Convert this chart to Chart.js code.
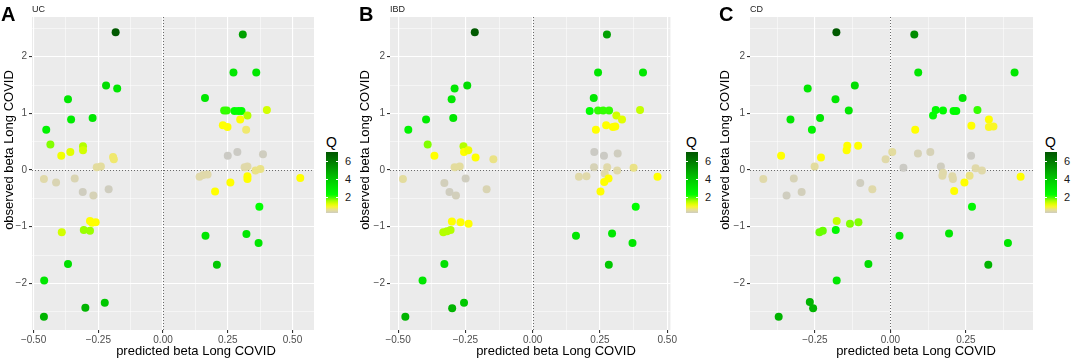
<!DOCTYPE html>
<html>
<head>
<meta charset="utf-8">
<script src="https://cdn.jsdelivr.net/npm/chart.js@4.4.1/dist/chart.umd.min.js"></script>
<style>
  html, body { margin: 0; padding: 0; background: #fff; }
  body { width: 1072px; height: 360px; position: relative; overflow: hidden;
         font-family: "Liberation Sans", Arial, Helvetica, sans-serif; }
  canvas { position: absolute; top: 0; }
  .txt { position: absolute; white-space: nowrap; line-height: 1; color: #000; }
  .letter { font-size: 20px; font-weight: bold; }
  .sub { font-size: 9px; color: #222; }
  .axtitle { font-size: 13px; transform: translate(-50%, -50%); }
  .ytitle { transform: translate(-50%, -50%) rotate(-90deg); }
  .bar { position: absolute; width: 12px; }
  .btick { position: absolute; width: 2px; height: 1px; background: #fff; }
  .qtitle { font-size: 14px; }
  .qlab { font-size: 11px; color: #1a1a1a; transform: translateY(-50%); }
</style>
</head>
<body>
<script>
  // observed beta is the same in every panel, predicted beta differs
  const yTicks = [-2.5, -2, -1.5, -1, -0.5, 0, 0.5, 1, 1.5, 2, 2.5];
  const xTicksWide = [-0.5, -0.375, -0.25, -0.125, 0, 0.125, 0.25, 0.375, 0.5];
  const xTicksNarrow = [-0.375, -0.25, -0.125, 0, 0.125, 0.25, 0.375];
  const legendLabels = [2, 4, 6];

  const ucX = [-0.183, 0.308, -0.220, -0.177, -0.367, -0.355, -0.272, -0.451, -0.435, -0.393, -0.358, -0.309, -0.309,
    -0.193, -0.190, -0.256, -0.240, 0.272, 0.360, 0.162, 0.236, 0.246, 0.276, 0.291, 0.303, 0.326, 0.401, 0.231, 0.249,
    0.298, 0.321, 0.250, 0.287, 0.386, 0.315, 0.326, 0.357, 0.376, -0.460, -0.413, -0.341, -0.310, -0.269, -0.210,
    -0.282, -0.274, -0.260, -0.306, -0.282, -0.391, -0.367, -0.459, -0.460, -0.300, -0.225, 0.141, 0.155, 0.172,
    0.260, 0.201, 0.326, 0.326, 0.530, 0.372, 0.164, 0.322, 0.369, 0.208];
  const ucY = [2.43, 2.39, 1.49, 1.44, 1.25, 0.89, 0.92, 0.71, 0.45, 0.25, 0.32, 0.42, 0.35,
    0.23, 0.19, 0.05, 0.06, 1.72, 1.72, 1.27, 1.05, 1.05, 1.04, 1.04, 1.04, 0.96, 1.06, 0.79, 0.76,
    0.89, 0.71, 0.25, 0.32, 0.28, 0.05, 0.06, -0.01, 0.02, -0.16, -0.22, -0.15, -0.39, -0.45, -0.34,
    -0.90, -0.93, -0.92, -1.06, -1.07, -1.10, -1.66, -1.95, -2.59, -2.43, -2.34, -0.12, -0.09, -0.08,
    -0.22, -0.38, -0.11, -0.16, -0.14, -0.65, -1.16, -1.13, -1.29, -1.67];
  const ucQ = [6.9, 5.0, 3.3, 3.0, 3.0, 2.8, 3.0, 2.6, 1.7, 1.1, 1.2, 1.5, 1.3,
    0.7, 0.7, 0.5, 0.5, 3.0, 3.0, 3.0, 2.0, 2.0, 2.2, 2.2, 2.2, 1.5, 1.3, 1.0, 1.0,
    1.0, 0.7, 0.15, 0.15, 0.2, 0.45, 0.45, 0.6, 0.6, 0.45, 0.35, 0.35, 0.2, 0.3, 0.2,
    1.0, 1.0, 1.0, 1.6, 1.6, 1.3, 3.2, 3.0, 4.5, 4.5, 4.0, 0.45, 0.45, 0.45,
    1.0, 1.0, 1.0, 1.0, 1.0, 2.2, 3.0, 3.0, 3.0, 4.0];

  const ibdX = [-0.215, 0.276, -0.243, -0.290, -0.301, -0.295, -0.396, -0.462, -0.390, -0.365, -0.257, -0.255, -0.239,
    -0.212, -0.146, -0.290, -0.271, 0.243, 0.410, 0.227, 0.212, 0.243, 0.262, 0.284, 0.311, 0.332, 0.399, 0.273, 0.298,
    0.307, 0.235, 0.229, 0.265, 0.316, 0.228, 0.277, 0.314, 0.375, 0.464, -0.482, -0.328, -0.309, -0.285, -0.249,
    -0.171, -0.300, -0.268, -0.238, -0.332, -0.318, -0.305, -0.328, -0.409, -0.473, -0.299, -0.255, 0.172, 0.200,
    0.268, 0.266, 0.282, 0.252, 0.383, 0.161, 0.295, 0.371, 0.283];
  const ibdY = [2.43, 2.39, 1.49, 1.44, 1.25, 0.92, 0.89, 0.71, 0.45, 0.25, 0.42, 0.32, 0.35,
    0.22, 0.19, 0.05, 0.06, 1.72, 1.72, 1.27, 1.04, 1.05, 1.05, 1.05, 0.96, 0.89, 1.06, 0.79, 0.76,
    0.77, 0.71, 0.32, 0.25, 0.29, 0.05, 0.05, -0.01, 0.04, -0.12, -0.16, -0.23, -0.39, -0.45, -0.15,
    -0.34, -0.91, -0.92, -0.95, -1.10, -1.08, -1.06, -1.66, -1.95, -2.59, -2.44, -2.34, -0.12, -0.11,
    -0.06, -0.21, -0.15, -0.38, -0.65, -1.16, -1.12, -1.29, -1.67];
  const ibdQ = [6.9, 5.0, 3.3, 3.0, 3.0, 3.0, 2.8, 2.6, 1.7, 1.0, 1.5, 1.0, 1.1,
    1.0, 0.6, 0.5, 0.5, 3.0, 3.0, 3.0, 2.2, 2.0, 2.0, 2.0, 1.3, 1.2, 1.4, 1.0, 1.0,
    1.0, 1.0, 0.15, 0.15, 0.2, 0.3, 0.45, 0.45, 0.6, 1.0, 0.5, 0.25, 0.2, 0.25, 0.2,
    0.35, 1.0, 1.0, 1.0, 1.5, 1.5, 1.5, 3.2, 3.0, 4.5, 4.5, 4.0, 0.45, 0.45,
    0.45, 1.0, 1.0, 1.0, 2.2, 3.0, 3.0, 3.0, 4.0];

  const cdX = [-0.179, 0.079, -0.118, -0.274, -0.182, -0.138, -0.233, -0.331, -0.260, -0.362, -0.230, -0.143, -0.145,
    -0.107, -0.251, -0.016, 0.006, 0.092, 0.411, 0.239, 0.141, 0.150, 0.174, 0.209, 0.218, 0.288, 0.082, 0.268,
    0.326, 0.326, 0.341, 0.043, 0.091, 0.132, 0.167, 0.174, 0.172, 0.205, 0.207, 0.262, 0.267, 0.282, 0.303, 0.431,
    -0.421, -0.320, -0.344, -0.294, -0.100, -0.060, -0.178, -0.134, -0.106, -0.235, -0.224, -0.181, -0.073, -0.178,
    -0.370, -0.267, -0.256, 0.030, 0.194, 0.389, 0.324, 0.270, 0.211, 0.245];
  const cdY = [2.43, 2.39, 1.49, 1.44, 1.25, 1.05, 0.92, 0.89, 0.71, 0.25, 0.22, 0.43, 0.35,
    0.43, 0.06, 0.19, 0.32, 1.72, 1.72, 1.27, 0.96, 1.06, 1.05, 1.04, 1.04, 1.06, 0.71, 0.78,
    0.89, 0.76, 0.77, 0.04, 0.29, 0.32, 0.06, -0.05, -0.10, -0.11, -0.16, -0.10, 0.25, 0.03, -0.01, -0.12,
    -0.16, -0.15, -0.45, -0.39, -0.23, -0.34, -0.90, -0.95, -0.92, -1.10, -1.07, -1.06, -1.66, -1.95,
    -2.59, -2.33, -2.44, -1.16, -1.12, -1.29, -1.67, -0.65, -0.37, -0.22];
  const cdQ = [6.9, 5.5, 3.3, 3.0, 3.0, 3.0, 3.0, 3.0, 2.6, 1.0, 1.0, 1.0, 1.0,
    1.0, 0.5, 0.45, 0.5, 3.0, 3.0, 3.0, 2.3, 2.3, 2.3, 2.3, 2.3, 2.0, 1.0, 1.0,
    1.0, 0.9, 0.9, 0.15, 0.3, 0.3, 0.2, 0.45, 0.45, 0.45, 0.45, 0.6, 0.15, 0.45, 0.45, 1.0,
    0.45, 0.3, 0.2, 0.25, 0.2, 0.45, 1.4, 1.7, 1.7, 1.8, 1.8, 2.4, 3.3, 3.0,
    4.5, 4.5, 4.5, 3.0, 3.0, 3.0, 4.5, 2.5, 1.0, 1.0];

  // colour scale for Q (grey -> yellow -> green -> dark green)
  const qStops = [[0.1, [200, 200, 200]], [0.45, [224, 217, 170]], [0.7, [240, 232, 110]], [1.0, [255, 255, 0]],
    [1.5, [180, 255, 0]], [2.2, [0, 255, 0]], [4.0, [0, 200, 0]], [5.5, [0, 140, 0]], [7.0, [0, 85, 0]]];
  const qBarMin = 0.2, qBarMax = 7.0;

  function qColor(q) {
    if (q <= qStops[0][0]) return 'rgb(' + qStops[0][1].join(',') + ')';
    for (let i = 1; i < qStops.length; i++) {
      if (q <= qStops[i][0]) {
        const [q0, c0] = qStops[i - 1], [q1, c1] = qStops[i];
        const t = (q - q0) / (q1 - q0);
        return 'rgb(' + c0.map((c, k) => Math.round(c + (c1[k] - c) * t)).join(',') + ')';
      }
    }
    return 'rgb(' + qStops[qStops.length - 1][1].join(',') + ')';
  }

  const minus = v => (v < 0 ? '\u2212' : '');
  const fmtX = v => minus(v) + Math.abs(v).toFixed(2);
  const fmtY = v => minus(v) + Math.abs(v);
  const isMajorX = v => Math.abs(v * 4 - Math.round(v * 4)) < 1e-6;
  const isMajorY = v => Math.abs(v - Math.round(v)) < 1e-6;

  const panels = [
    { letter: 'A', name: 'UC', left: 0, width: 318, xMin: -0.506, xMax: 0.583, xTicks: xTicksWide,
      xs: ucX, ys: ucY, qs: ucQ, xTitleX: 196, yTitleX: 8, subLeft: 32 },
    { letter: 'B', name: 'IBD', left: 358, width: 320, xMin: -0.530, xMax: 0.512, xTicks: xTicksWide,
      xs: ibdX, ys: ibdY, qs: ibdQ, xTitleX: 556, yTitleX: 364, subLeft: 390 },
    { letter: 'C', name: 'CD', left: 718, width: 319, xMin: -0.465, xMax: 0.472, xTicks: xTicksNarrow,
      xs: cdX, ys: cdY, qs: cdQ, xTitleX: 916, yTitleX: 724, subLeft: 750 }
  ];

  const panelBg = {
    id: 'panelBg',
    beforeDraw(chart) {
      const a = chart.chartArea, ctx = chart.ctx;
      ctx.save();
      ctx.fillStyle = '#EBEBEB';
      ctx.fillRect(a.left, a.top, a.right - a.left, a.bottom - a.top);
      ctx.restore();
    }
  };

  const zeroLines = {
    id: 'zeroLines',
    beforeDatasetsDraw(chart) {
      const a = chart.chartArea, ctx = chart.ctx;
      const x0 = chart.scales.x.getPixelForValue(0);
      const y0 = chart.scales.y.getPixelForValue(0);
      ctx.save();
      ctx.strokeStyle = '#6a6a6a';
      ctx.lineWidth = 1;
      ctx.setLineDash([1, 2]);
      ctx.beginPath();
      ctx.moveTo(a.left, Math.round(y0) + 0.5);
      ctx.lineTo(a.right, Math.round(y0) + 0.5);
      ctx.moveTo(Math.round(x0) + 0.5, a.top);
      ctx.lineTo(Math.round(x0) + 0.5, a.bottom);
      ctx.stroke();
      ctx.restore();
    }
  };

  function addText(cls, text, left, top, extra) {
    const d = document.createElement('div');
    d.className = 'txt ' + cls;
    d.textContent = text;
    d.style.left = left + 'px';
    d.style.top = top + 'px';
    if (extra) Object.assign(d.style, extra);
    document.body.appendChild(d);
    return d;
  }

  function addBox(cls, left, top, height) {
    const d = document.createElement('div');
    d.className = cls;
    d.style.left = left + 'px';
    d.style.top = top + 'px';
    if (height) d.style.height = height + 'px';
    document.body.appendChild(d);
    return d;
  }

  panels.forEach(p => {
    const canvas = document.createElement('canvas');
    canvas.width = p.width;
    canvas.height = 360;
    canvas.style.left = p.left + 'px';
    canvas.style.width = p.width + 'px';
    canvas.style.height = '360px';
    document.body.appendChild(canvas);

    new Chart(canvas.getContext('2d'), {
      type: 'scatter',
      data: {
        datasets: [{
          data: p.xs.map((v, i) => ({ x: v, y: p.ys[i] })),
          pointBackgroundColor: p.qs.map(qColor),
          pointBorderWidth: 0,
          pointRadius: 4,
          pointHoverRadius: 4
        }]
      },
      options: {
        responsive: false,
        animation: false,
        events: [],
        layout: { padding: { top: 17, right: 3, left: 0, bottom: 0 } },
        plugins: { legend: { display: false }, tooltip: { enabled: false } },
        scales: {
          x: {
            type: 'linear',
            min: p.xMin,
            max: p.xMax,
            afterBuildTicks: s => { s.ticks = p.xTicks.map(v => ({ value: v })); },
            afterFit: s => { s.height = 30; },
            border: { display: false },
            grid: {
              color: '#ffffff',
              lineWidth: c => (c.tick && isMajorX(c.tick.value) ? 1.1 : 0.5),
              tickLength: 3,
              tickColor: c => (c.tick && isMajorX(c.tick.value) ? '#333333' : 'rgba(0,0,0,0)')
            },
            ticks: {
              autoSkip: false, maxRotation: 0, padding: 1, color: '#4D4D4D',
              font: { family: '"Liberation Sans", Arial, sans-serif', size: 10 },
              callback: v => (isMajorX(v) ? fmtX(v) : '')
            }
          },
          y: {
            type: 'linear',
            min: -2.823,
            max: 2.70,
            afterBuildTicks: s => { s.ticks = yTicks.map(v => ({ value: v })); },
            afterFit: s => { s.width = 32; },
            border: { display: false },
            grid: {
              color: '#ffffff',
              lineWidth: c => (c.tick && isMajorY(c.tick.value) ? 1.1 : 0.5),
              tickLength: 3,
              tickColor: c => (c.tick && isMajorY(c.tick.value) ? '#333333' : 'rgba(0,0,0,0)')
            },
            ticks: {
              autoSkip: false, padding: 2, color: '#4D4D4D',
              font: { family: '"Liberation Sans", Arial, sans-serif', size: 10 },
              callback: v => (isMajorY(v) ? fmtY(v) : '')
            }
          }
        }
      },
      plugins: [panelBg, zeroLines]
    });

    // panel labels and axis titles
    const plotRight = p.left + p.width - 3;
    addText('letter', p.letter, p.left + 1, 4);
    addText('sub', p.name, p.subLeft, 5);
    addText('axtitle', 'predicted beta Long COVID', p.xTitleX, 350);
    addText('axtitle ytitle', 'observed beta Long COVID', p.yTitleX, 150);

    // colour bar legend for Q
    const barLeft = plotRight + 11, barTop = 152, barH = 61;
    const stops = [];
    for (let i = 0; i <= 20; i++) {
      const q = qBarMin + (qBarMax - qBarMin) * i / 20;
      stops.push(qColor(q) + ' ' + (i * 5) + '%');
    }
    const bar = addBox('bar', barLeft, barTop, barH);
    bar.style.background = 'linear-gradient(to top, ' + stops.join(', ') + ')';
    addText('qtitle', 'Q', barLeft, 135);
    legendLabels.forEach(q => {
      const y = barTop + barH - (q - qBarMin) / (qBarMax - qBarMin) * barH;
      addBox('btick', barLeft, Math.round(y));
      addBox('btick', barLeft + 10, Math.round(y));
      addText('qlab', String(q), barLeft + 19, y);
    });
  });
</script>
</body>
</html>
